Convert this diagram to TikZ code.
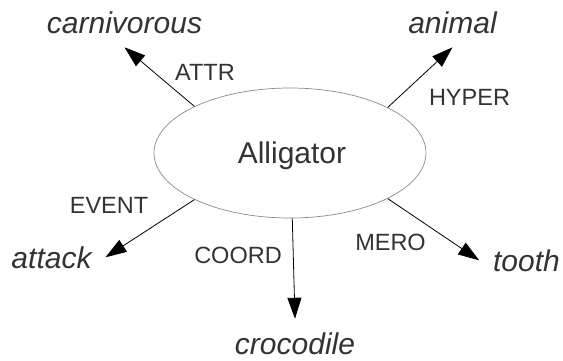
\documentclass[tikz,border=0pt]{standalone}
\usepackage{fontspec}
\setmainfont{Liberation Sans}
\usetikzlibrary{shapes.geometric,arrows.meta}
\definecolor{inkgray}{HTML}{333333}
\definecolor{rimgray}{HTML}{8A8A8A}
\begin{document}
\begin{tikzpicture}[x=1pt,y=-1pt,
  concept/.style={ellipse,draw=rimgray,line width=0.7pt,minimum width=272pt,minimum height=130pt,inner sep=0pt,
    text=inkgray,font=\fontsize{30}{36}\selectfont},
  word/.style={inner sep=14pt,outer sep=0pt,text=inkgray,anchor=base,font=\fontsize{30}{36}\selectfont\itshape},
  rel/.style={inner sep=0pt,text=inkgray,anchor=base,font=\fontsize{23.5}{28}\selectfont},
  arr/.style={draw=black,line width=0.8pt,-{Triangle[length=21pt,width=14pt]}}]
\useasboundingbox (0,0) rectangle (563,360);

% central concept
\node[concept] (all) at (290,153) {};
\node[inkgray,anchor=base,font=\fontsize{30}{36}\selectfont,inner sep=0pt] (alltxt) at (292,163) {Alligator};

% related words
\node[word] (carn) at (124.5,33) {carnivorous};
\node[word] (anim) at (452.5,33) {animal};
\node[word] (atta) at (51.5,268) {attack};
\node[word] (toot) at (526.5,271) {tooth};
\node[word] (croc) at (295,354.5) {crocodile};

% relation labels
\node[rel] (lattr) at (205,80) {ATTR};
\node[rel] (lhyper) at (469.5,105) {HYPER};
\node[rel] (levent) at (109,213) {EVENT};
\node[rel] (lmero) at (390.5,250) {MERO};
\node[rel] (lcoord) at (238,263) {COORD};

% relations
\draw[arr] (all.154.4) -- (carn.south);
\draw[arr] (all.25.1) -- (anim.south);
\draw[arr] (all.-154.2) -- (atta.east);
\draw[arr] (all.-25.4) -- (toot.west);
\draw[arr] (all.-88.7) -- (croc.north);
\end{tikzpicture}
\end{document}
